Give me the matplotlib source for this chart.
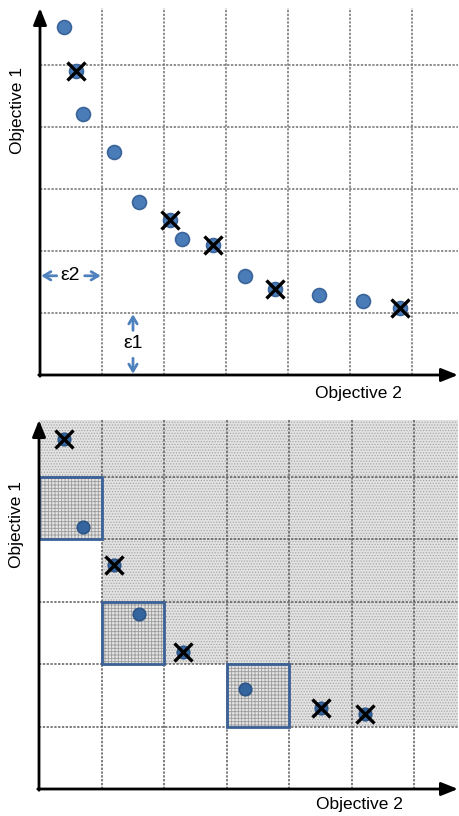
import matplotlib
matplotlib.use('Agg')
import matplotlib.pyplot as plt
from matplotlib.patches import Polygon, Rectangle

plt.rcParams['font.family'] = ['Liberation Sans', 'DejaVu Sans']
plt.rcParams['hatch.linewidth'] = 0.6

# top panel: all solutions, crosses mark the epsilon-archive members
top_x = [0.39, 0.58, 0.69, 1.19, 1.60, 2.10, 2.29, 2.79, 3.31, 3.79, 4.50, 5.21, 5.81]
top_y = [5.61, 4.90, 4.21, 3.60, 2.79, 2.50, 2.19, 2.10, 1.60, 1.39, 1.29, 1.19, 1.08]
top_marked = [1, 5, 7, 9, 12]

# bottom panel: solutions and the non-dominated epsilon boxes (lower-left corners)
bot_x = [0.40, 0.70, 1.20, 1.60, 2.30, 3.30, 4.51, 5.21]
bot_y = [5.60, 4.19, 3.58, 2.80, 2.19, 1.60, 1.30, 1.20]
bot_marked = [0, 2, 4, 6, 7]
box_x = [0, 1, 3]
box_y = [4, 2, 1]

W, H = 459, 816
fig = plt.figure(figsize=(W / 100, H / 100), dpi=100)


def px_axes(left, right, top, bottom):
    return fig.add_axes([left / W, 1 - bottom / H, (right - left) / W, (bottom - top) / H])


def setup(ax, xmax, ymax, gcol):
    ax.set_xlim(0, xmax)
    ax.set_ylim(0, ymax)
    ax.axis('off')
    ax.vlines(range(1, int(xmax) + 1), 0, ymax, colors=gcol, linestyles=(0, (1.5, 1)), lw=1.1, zorder=2)
    ax.hlines(range(1, int(ymax) + 1), 0, xmax, colors=gcol, linestyles=(0, (1.5, 1)), lw=1.1, zorder=2)
    arr = dict(arrowstyle='-|>,head_length=1.0,head_width=0.4', color='black', lw=2, shrinkA=0, shrinkB=0)
    ax.annotate('', xy=(0, ymax), xytext=(0, -0.02), arrowprops=arr, annotation_clip=False, zorder=6)
    ax.annotate('', xy=(xmax, 0), xytext=(-0.02, 0), arrowprops=arr, annotation_clip=False, zorder=6)


def points(ax, xs, ys, marked, size, fc, ec):
    ax.plot(xs, ys, 'o', ms=size, mfc=fc, mec=ec, mew=1.2, ls='none', zorder=7)
    ax.plot([xs[i] for i in marked], [ys[i] for i in marked], 'x', ms=13, mec='black', mew=2.4, ls='none', zorder=8)


# ---- top panel
ax1 = px_axes(40, 458, 8, 375)
xmax1, ymax1 = 418 / 62, 367 / 62
setup(ax1, xmax1, ymax1, '#707070')
points(ax1, top_x, top_y, top_marked, 10, '#4a7cb8', '#3a649a')

blue = '#4f81bd'
ab = dict(arrowstyle='->,head_length=0.5,head_width=0.3', color=blue, lw=2, shrinkA=0, shrinkB=0)
ax1.annotate('', xy=(0.02, 1.6), xytext=(0.27, 1.6), arrowprops=ab)
ax1.annotate('', xy=(0.98, 1.6), xytext=(0.72, 1.6), arrowprops=ab)
ax1.text(0.49, 1.6, 'ε2', ha='center', va='center', fontsize=14)
ax1.annotate('', xy=(1.5, 0.98), xytext=(1.5, 0.72), arrowprops=ab)
ax1.annotate('', xy=(1.5, 0.02), xytext=(1.5, 0.27), arrowprops=ab)
ax1.text(1.5, 0.5, 'ε1', ha='center', va='center', fontsize=14)

fig.text(18 / W, 1 - 111 / H, 'Objective 1', rotation=90, ha='center', va='center', fontsize=12.5)
fig.text(358 / W, 1 - 393 / H, 'Objective 2', ha='center', va='center', fontsize=12.5)

# ---- bottom panel
ax2 = px_axes(39, 458, 420, 789)
xmax2, ymax2 = 419 / 62.5, 369 / 62.5
setup(ax2, xmax2, ymax2, '#5a5a5a')

# dominated region: union of quadrants above/right of each box corner
verts = [(box_x[0], ymax2)]
for i in range(len(box_x)):
    verts.append((box_x[i], box_y[i]))
    nx = box_x[i + 1] if i + 1 < len(box_x) else xmax2
    verts.append((nx, box_y[i]))
verts.append((xmax2, ymax2))
ax2.add_patch(Polygon(verts, closed=True, facecolor='#e2e2e2', edgecolor='#a8a8a8', hatch='......', lw=0, zorder=1))
for bx, by in zip(box_x, box_y):
    ax2.add_patch(Rectangle((bx, by), 1, 1, facecolor='#e4e4e4', edgecolor='#9c9c9c', hatch='+++++', lw=0, zorder=3))
    ax2.add_patch(Rectangle((bx, by), 1, 1, facecolor='none', edgecolor='#3b6196', lw=2, zorder=4))

points(ax2, bot_x, bot_y, bot_marked, 9, '#35659f', '#2c5486')

fig.text(17 / W, 1 - 524 / H, 'Objective 1', rotation=90, ha='center', va='center', fontsize=12.5)
fig.text(359 / W, 1 - 805 / H, 'Objective 2', ha='center', va='center', fontsize=12.5)

fig.savefig('out.png', dpi=100)
